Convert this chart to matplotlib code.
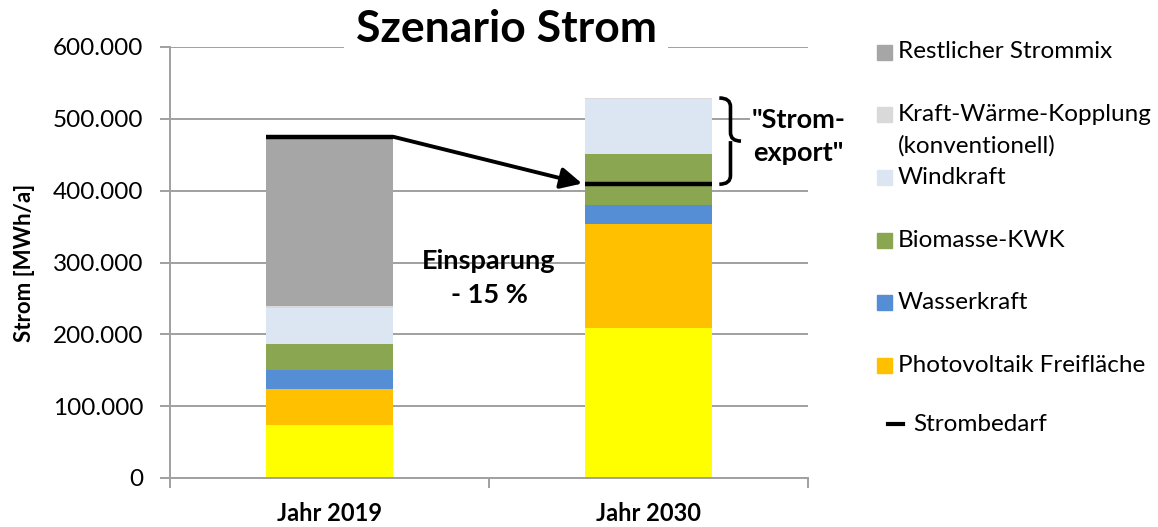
import matplotlib
matplotlib.use("Agg")
import matplotlib.pyplot as plt
import numpy as np
from matplotlib.patches import Rectangle, PathPatch
from matplotlib.path import Path
from matplotlib.ticker import FuncFormatter

plt.rcParams['font.family'] = ['Lato', 'DejaVu Sans']

years = ["Jahr 2019", "Jahr 2030"]
# stacked from bottom to top, MWh/a
pv_dach = [73500, 208500]
pv_frei = [51000, 145500]
wasser = [26000, 26000]
biomasse = [35500, 71000]
wind = [51000, 76500]
kwk_konv = [2000, 1500]
rest = [235000, 0]
strombedarf = [475000, 409000]

layers = [
    ("Photovoltaik Dach", pv_dach, "#FFFF00"),
    ("Photovoltaik Freifläche", pv_frei, "#FFC000"),
    ("Wasserkraft", wasser, "#558ED5"),
    ("Biomasse-KWK", biomasse, "#8BA650"),
    ("Windkraft", wind, "#DCE6F2"),
    ("Kraft-Wärme-Kopplung\n(konventionell)", kwk_konv, "#D9D9D9"),
    ("Restlicher Strommix", rest, "#A6A6A6"),
]

fig = plt.figure(figsize=(11.58, 5.27), dpi=100)
ax = fig.add_axes([170 / 1158, 49 / 527, 638 / 1158, 431 / 527])

x = np.arange(len(years))
w = 0.4
bottom = np.zeros(len(years))
for name, vals, col in layers:
    ax.bar(x, vals, w, bottom=bottom, color=col, zorder=2)
    bottom += np.array(vals)

ax.hlines(strombedarf, x - w / 2, x + w / 2, color="black", lw=3.2, zorder=4)

ax.set_xlim(-0.5, 1.5)
ax.set_ylim(0, 600000)
ax.set_yticks(np.arange(0, 600001, 100000))
ax.yaxis.set_major_formatter(FuncFormatter(lambda v, p: f"{int(v):,}".replace(",", ".")))
ax.grid(axis="y", color="#A0A0A0", lw=1.4, zorder=0)
ax.set_axisbelow(True)
for s in ["top", "right"]:
    ax.spines[s].set_visible(False)
for s in ["left", "bottom"]:
    ax.spines[s].set_color("#A0A0A0")
    ax.spines[s].set_linewidth(1.4)
ax.tick_params(axis="y", length=7, color="#A0A0A0", width=1.4, labelsize=17.5, pad=12)
ax.set_xticks(x)
ax.set_xticklabels(years, fontweight="bold", fontsize=17)
ax.set_xticks([-0.5, 0.5, 1.5], minor=True)
ax.tick_params(axis="x", which="major", length=0, pad=17)
ax.tick_params(axis="x", which="minor", length=7, color="#A0A0A0", width=1.4)
ax.set_ylabel("Strom [MWh/a]", fontweight="bold", fontsize=16)
ax.yaxis.set_label_coords(-0.212, 0.5)

# arrow from old to new demand
ax.annotate("", xy=(x[1] - w / 2, strombedarf[1]), xytext=(x[0] + w / 2, strombedarf[0]),
            arrowprops=dict(arrowstyle="-|>", lw=2.8, color="black", mutation_scale=32,
                            shrinkA=0, shrinkB=2), zorder=5)
ax.text(0.5, 278000, "Einsparung\n- 15 %", ha="center", va="center", fontsize=19.5,
        fontweight="bold", linespacing=1.5, zorder=5)

# bracket for export
top = bottom[1]
low = strombedarf[1]
mid = (top + low) / 2
x0, x1, x2 = 1.222, 1.257, 1.29
r = 12000
verts = [(x0, top), (x1, top), (x1, top - r), (x1, mid + r), (x1, mid), (x2, mid),
         (x1, mid), (x1, mid - r), (x1, low + r), (x1, low), (x0, low)]
codes = [Path.MOVETO, Path.CURVE3, Path.CURVE3, Path.LINETO, Path.CURVE3, Path.CURVE3,
         Path.MOVETO, Path.CURVE3, Path.LINETO, Path.CURVE3, Path.CURVE3]
ax.add_patch(PathPatch(Path(verts, codes), fill=False, lw=2.6, color="black",
                       clip_on=False, zorder=5))
ax.text(1.469, 475000, "\"Strom-\nexport\"", ha="center", va="center", fontsize=19.5,
        fontweight="bold", linespacing=1.45, bbox=dict(facecolor="white", edgecolor="none", pad=1))

fig.text(506 / 1158, (527 - 42) / 527, "Szenario Strom", ha="center", va="baseline",
         fontsize=32, fontweight="bold",
         bbox=dict(facecolor="white", edgecolor="none", boxstyle="square,pad=0.25"))

# legend on the right
lax = fig.add_axes([0, 0, 1, 1])
lax.set_xlim(0, 1158)
lax.set_ylim(527, 0)
lax.axis("off")
legend_items = [l for l in layers[1:]][::-1]
y0, step = 52, 62.7
for i, (name, vals, col) in enumerate(legend_items):
    yy = y0 + i * step
    lax.add_patch(Rectangle((877, yy - 7.5), 15, 15, color=col))
    for j, line in enumerate(name.split("\n")):
        lax.text(898, yy + j * 31, line, va="center", ha="left", fontsize=17.5)
yy = y0 + len(legend_items) * step - 4
lax.plot([888, 903], [yy, yy], color="black", lw=3)
lax.text(913, yy, "Strombedarf", va="center", ha="left", fontsize=17.5)

fig.savefig("out.png", dpi=100)
